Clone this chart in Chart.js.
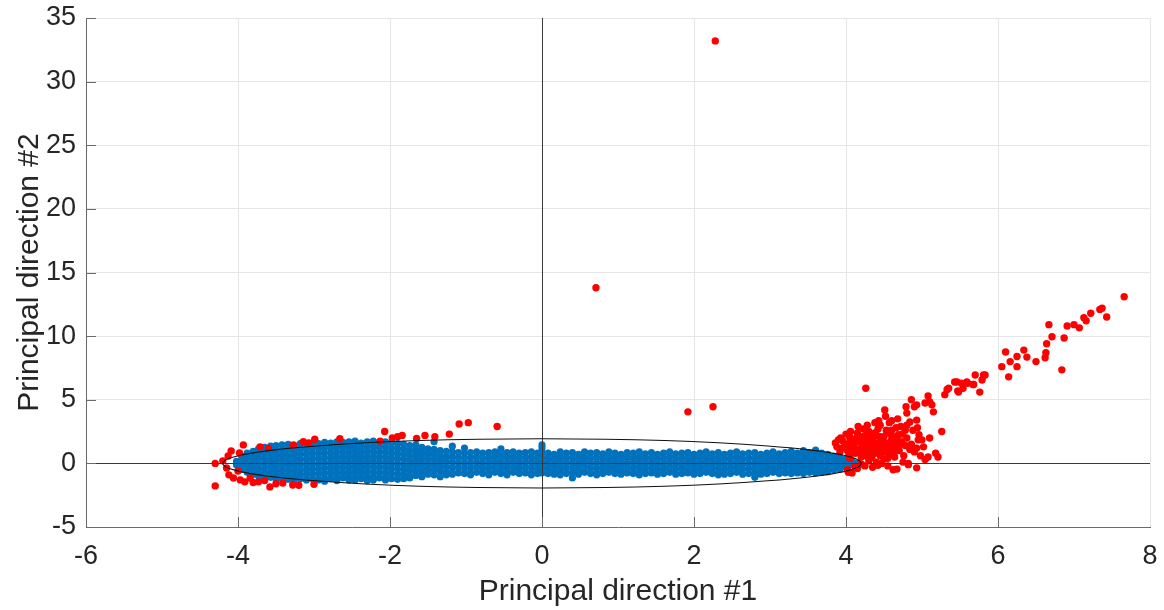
<!DOCTYPE html>
<html>
<head>
<meta charset="utf-8">
<script src="https://cdn.jsdelivr.net/npm/chart.js@4/dist/chart.umd.min.js"></script>
<style>
  body { margin: 0; background: #fff; }
  #wrap { width: 1164px; height: 610px; }
</style>
</head>
<body>
<div id="wrap"><canvas id="chart"></canvas></div>
<script>
// axis ticks
const xTicks = [-6, -4, -2, 0, 2, 4, 6, 8];
const yTicks = [-5, 0, 5, 10, 15, 20, 25, 30, 35];

// fitted ellipse (center, semi axes) in data units
const ellipseCenter = [0, 0];
const ellipseRadii = [4.2, 1.93];

// inliers: [x, [y values]]
const blueColumns = [
    [-4.02, [0.15, -0.1]],
    [-3.95, [0.55, 0.2, -0.15, -0.45]],
    [-3.88, [0.8, 0.4, 0.0, -0.4, -0.7]],
    [-3.8, [0.95, 0.55, 0.15, -0.25, -0.6, -0.85]],
    [-3.73, [1.15, 0.75, 0.35, -0.05, -0.45, -0.8, -1.0]],
    [-3.65, [1.25, 0.85, 0.45, 0.05, -0.35, -0.75, -1.05]],
    [-3.57, [1.35, 0.95, 0.55, 0.15, -0.25, -0.65, -1.1]],
    [-3.5, [1.4, 1.0, 0.6, 0.2, -0.2, -0.6, -1.0, -1.2]],
    [-3.42, [1.45, 1.05, 0.65, 0.25, -0.15, -0.55, -0.95, -1.2]],
    [-3.34, [1.5, 1.1, 0.7, 0.3, -0.1, -0.5, -0.9, -1.25]],
    [-3.26, [1.4, 1.0, 0.6, 0.2, -0.2, -0.6, -1.0, -1.3]],
    [-3.18, [1.55, 1.15, 0.75, 0.35, -0.05, -0.45, -0.85, -1.2]],
    [-3.1, [1.5, 1.1, 0.7, 0.3, -0.1, -0.5, -0.9, -1.3]],
    [-3.02, [1.6, 1.2, 0.8, 0.4, 0.0, -0.4, -0.8, -1.2]],
    [-2.94, [1.55, 1.15, 0.75, 0.35, -0.05, -0.45, -0.85, -1.3]],
    [-2.86, [1.65, 1.25, 0.85, 0.45, 0.05, -0.35, -0.75, -1.15, -1.4]],
    [-2.78, [1.6, 1.2, 0.8, 0.4, 0.0, -0.4, -0.8, -1.2]],
    [-2.7, [1.7, 1.3, 0.9, 0.5, 0.1, -0.3, -0.7, -1.1, -1.35]],
    [-2.62, [1.65, 1.25, 0.85, 0.45, 0.05, -0.35, -0.75, -1.15]],
    [-2.54, [1.7, 1.3, 0.9, 0.5, 0.1, -0.3, -0.7, -1.1, -1.3]],
    [-2.46, [1.75, 1.35, 0.95, 0.55, 0.15, -0.25, -0.65, -1.05, -1.3]],
    [-2.38, [1.6, 1.2, 0.8, 0.4, 0.0, -0.4, -0.8, -1.2]],
    [-2.3, [1.7, 1.3, 0.9, 0.5, 0.1, -0.3, -0.7, -1.1, -1.35]],
    [-2.22, [1.75, 1.35, 0.95, 0.55, 0.15, -0.25, -0.65, -1.05, -1.3]],
    [-2.14, [1.65, 1.25, 0.85, 0.45, 0.05, -0.35, -0.75, -1.15]],
    [-2.06, [1.7, 1.3, 0.9, 0.5, 0.1, -0.3, -0.7, -1.1, -1.3]],
    [-1.98, [1.6, 1.2, 0.8, 0.4, 0.0, -0.4, -0.8, -1.2]],
    [-1.9, [1.55, 1.15, 0.75, 0.35, -0.05, -0.45, -0.85, -1.25]],
    [-1.82, [1.5, 1.1, 0.7, 0.3, -0.1, -0.5, -0.9, -1.2]],
    [-1.74, [1.4, 1.0, 0.6, 0.2, -0.2, -0.6, -1.0, -1.15]],
    [-1.66, [1.45, 1.05, 0.65, 0.25, -0.15, -0.55, -0.95]],
    [-1.58, [1.25, 0.85, 0.45, 0.05, -0.35, -0.75, -1.05]],
    [-1.5, [1.15, 0.75, 0.35, -0.05, -0.45, -0.85]],
    [-1.42, [1.7, 1.1, 0.7, 0.3, -0.1, -0.5, -0.9]],
    [-1.34, [1.0, 0.6, 0.2, -0.2, -0.6, -1.05]],
    [-1.26, [0.95, 0.55, 0.15, -0.25, -0.65, -0.9]],
    [-1.18, [1.35, 0.9, 0.5, 0.1, -0.3, -0.7, -0.85]],
    [-1.1, [0.85, 0.45, 0.05, -0.35, -0.75]],
    [-1.02, [1.2, 0.8, 0.4, 0.0, -0.4, -0.8]],
    [-0.94, [0.85, 0.45, 0.05, -0.35, -0.75, -0.9]],
    [-0.86, [0.9, 0.5, 0.1, -0.3, -0.7]],
    [-0.78, [0.8, 0.4, 0.0, -0.4, -0.8]],
    [-0.7, [0.85, 0.45, 0.05, -0.35, -0.75, -0.9]],
    [-0.62, [0.9, 0.5, 0.1, -0.3, -0.7]],
    [-0.54, [1.15, 0.8, 0.4, 0.0, -0.4, -0.8]],
    [-0.46, [0.85, 0.45, 0.05, -0.35, -0.75, -0.9]],
    [-0.38, [0.9, 0.5, 0.1, -0.3, -0.7]],
    [-0.3, [0.8, 0.4, 0.0, -0.4, -0.8]],
    [-0.22, [0.85, 0.45, 0.05, -0.35, -0.75]],
    [-0.14, [0.9, 0.5, 0.1, -0.3, -0.7, -0.9]],
    [-0.06, [0.8, 0.4, 0.0, -0.4, -0.8]],
    [0.0, [1.45, 1.2, 0.85, 0.45, 0.05, -0.35, -0.75]],
    [0.08, [0.8, 0.4, 0.0, -0.4, -0.8]],
    [0.16, [0.7, 0.3, -0.1, -0.5, -0.85]],
    [0.24, [0.9, 0.5, 0.1, -0.3, -0.7, -0.9]],
    [0.32, [0.8, 0.4, 0.0, -0.4, -0.8]],
    [0.4, [0.85, 0.45, 0.05, -0.35, -0.75, -1.15]],
    [0.48, [0.7, 0.3, -0.1, -0.5, -0.85]],
    [0.56, [0.9, 0.5, 0.1, -0.3, -0.7]],
    [0.64, [0.8, 0.4, 0.0, -0.4, -0.8]],
    [0.72, [0.85, 0.45, 0.05, -0.35, -0.75, -0.9]],
    [0.8, [0.75, 0.35, -0.05, -0.45, -0.8]],
    [0.88, [0.9, 0.5, 0.1, -0.3, -0.7]],
    [0.96, [0.8, 0.4, 0.0, -0.4, -0.8]],
    [1.04, [0.7, 0.3, -0.1, -0.5, -0.85]],
    [1.12, [0.85, 0.45, 0.05, -0.35, -0.75]],
    [1.2, [0.8, 0.4, 0.0, -0.4, -0.8]],
    [1.28, [0.9, 0.5, 0.1, -0.3, -0.7, -0.9]],
    [1.36, [0.75, 0.35, -0.05, -0.45, -0.8]],
    [1.44, [0.85, 0.45, 0.05, -0.35, -0.75]],
    [1.52, [0.7, 0.3, -0.1, -0.5, -0.85]],
    [1.6, [0.8, 0.4, 0.0, -0.4, -0.8]],
    [1.68, [0.9, 0.5, 0.1, -0.3, -0.7]],
    [1.76, [0.75, 0.35, -0.05, -0.45, -0.85]],
    [1.84, [0.8, 0.4, 0.0, -0.4, -0.8]],
    [1.92, [0.85, 0.45, 0.05, -0.35, -0.75]],
    [2.0, [0.7, 0.3, -0.1, -0.5, -0.85]],
    [2.08, [0.8, 0.4, 0.0, -0.4, -0.8]],
    [2.16, [0.9, 0.5, 0.1, -0.3, -0.7]],
    [2.24, [0.75, 0.35, -0.05, -0.45, -0.8]],
    [2.32, [0.85, 0.45, 0.05, -0.35, -0.75, -0.9]],
    [2.4, [0.7, 0.3, -0.1, -0.5, -0.85]],
    [2.48, [0.8, 0.4, 0.0, -0.4, -0.8]],
    [2.56, [0.9, 0.5, 0.1, -0.3, -0.7]],
    [2.64, [0.75, 0.35, -0.05, -0.45, -0.85]],
    [2.72, [0.8, 0.4, 0.0, -0.4, -0.8]],
    [2.8, [0.85, 0.45, 0.05, -0.35, -0.75, -1.1]],
    [2.88, [0.7, 0.3, -0.1, -0.5, -0.85]],
    [2.96, [0.8, 0.4, 0.0, -0.4, -0.8]],
    [3.04, [0.9, 0.5, 0.1, -0.3, -0.7]],
    [3.12, [0.75, 0.35, -0.05, -0.45, -0.8]],
    [3.2, [0.85, 0.45, 0.05, -0.35, -0.75]],
    [3.28, [0.95, 0.55, 0.15, -0.25, -0.65, -0.8]],
    [3.36, [0.8, 0.4, 0.0, -0.4, -0.75]],
    [3.44, [1.0, 0.6, 0.2, -0.2, -0.6, -0.8]],
    [3.52, [0.85, 0.45, 0.05, -0.35, -0.7]],
    [3.6, [1.05, 0.65, 0.25, -0.15, -0.55, -0.75]],
    [3.68, [0.8, 0.4, 0.0, -0.4, -0.7]],
    [3.76, [0.7, 0.3, -0.1, -0.5, -0.65]],
    [3.84, [0.55, 0.2, -0.15, -0.5]],
    [3.92, [0.45, 0.1, -0.25, -0.45]],
    [4.0, [0.35, 0.05, -0.3]],
    [4.08, [0.2, -0.1]],
    [4.15, [0.05]]
];

// outliers: [x, y]
const redPoints = [
    [-4.3, 0.0], [-4.3, -1.77], [-4.09, 0.98], [-4.13, 0.58], [-3.93, 1.45], [-3.98, 0.82],
    [-4.15, -0.36], [-4.12, -0.9], [-4.06, -1.15], [-3.97, -1.3], [-3.91, -1.45], [-3.71, 1.3],
    [-3.6, 1.2], [-3.73, -1.45], [-3.58, -1.85], [-3.41, -1.55], [-3.28, -1.7], [-3.27, 1.45],
    [-3.84, -1.15], [-3.65, -1.35], [-3.8, -1.5], [-3.5, -1.6], [-3.2, -1.72], [-3.0, -1.65],
    [-2.99, 1.9], [-3.14, 1.7], [-3.07, 1.6], [-2.66, 1.93], [-2.07, 2.5], [-2.13, 1.75],
    [-1.97, 2.0], [-1.9, 2.1], [-1.84, 2.2], [-1.65, 1.95], [-1.54, 2.2], [-1.41, 2.1],
    [-1.22, 2.3], [-1.09, 3.1], [-0.97, 3.2], [-0.59, 2.9], [-4.2, 0.2], [-4.0, -0.6],
    [0.71, 13.8], [2.28, 33.2], [1.92, 4.05], [2.25, 4.45],
    [4.26, 5.9], [4.51, 4.2], [4.43, 3.35], [4.57, 3.2], [3.86, 1.6], [3.9, 1.85], [4.0, 2.3],
    [4.05, 1.6], [4.14, 2.0], [4.23, 2.7], [4.27, 2.25], [4.32, 1.7], [4.38, 2.4], [4.45, 2.1],
    [4.49, 1.7], [4.54, 2.4], [4.6, 1.85], [4.65, 1.3], [4.69, 2.25], [4.73, 1.7], [4.78, 2.6],
    [4.8, 3.95], [4.79, 4.45], [4.84, 3.25], [4.86, 5.0], [4.93, 4.6], [4.94, 2.8], [4.96, 2.25],
    [5.0, 1.85], [5.04, 4.75], [5.08, 5.3], [5.13, 4.6], [5.15, 4.05], [5.1, 2.0], [5.26, 2.5],
    [5.35, 5.9], [5.3, 5.4], [5.46, 6.4], [5.48, 5.6], [5.18, 0.8], [5.21, 0.5], [5.08, 0.5],
    [4.93, 1.2], [4.93, -0.35], [4.82, 0.0], [4.75, 0.1], [4.67, -0.45], [4.55, 0.4], [4.47, 0.0],
    [4.4, 0.1], [4.32, 0.8], [4.25, 1.05], [4.2, 0.5], [4.12, 0.8], [4.05, 0.4], [4.03, -0.7],
    [4.08, -0.75], [4.64, 0.5], [4.58, 1.2], [4.41, 1.3], [4.36, 1.05], [4.9, 4.45], [5.1, 4.85],
    [5.33, 5.8], [5.43, 6.4], [5.54, 5.9], [5.59, 6.4], [5.67, 6.2], [5.7, 6.95], [5.79, 6.55],
    [5.83, 6.95], [5.76, 5.6], [4.93, 3.4], [4.95, 1.85], [4.8, 3.0], [4.82, -0.1],
    [5.52, 6.3], [5.6, 6.3], [5.68, 6.2], [5.81, 6.95], [5.47, 5.7], [6.05, 7.6], [6.1, 8.75],
    [6.14, 6.8], [6.16, 8.0], [6.25, 7.6], [6.25, 8.4], [6.34, 8.9], [6.38, 8.35], [6.5, 8.0],
    [6.62, 8.3], [6.63, 8.7], [6.64, 9.4], [6.67, 10.9], [6.71, 9.95], [6.84, 7.35], [6.87, 9.85],
    [6.91, 10.8], [7.0, 10.9], [7.07, 10.65], [7.13, 11.45], [7.16, 11.2], [7.22, 11.8],
    [7.34, 12.1], [7.37, 12.2], [7.43, 11.5], [7.66, 13.1],
    [3.95, 1.2], [4.02, 1.0], [4.1, 1.4], [4.18, 1.7], [4.22, 2.1], [4.3, 2.5], [4.35, 1.9],
    [4.42, 2.7], [4.48, 1.5], [4.52, 0.9], [4.6, 2.6], [4.15, 2.4], [4.28, 1.4], [4.4, 1.6],
    [4.5, 2.1], [4.62, 1.6], [4.7, 1.0], [4.72, 2.9], [3.98, 1.55], [4.08, 1.9], [4.18, 1.15],
    [4.34, 0.45], [4.45, 0.6], [4.25, -0.2], [4.15, -0.4], [4.35, -0.3], [4.55, -0.2],
    [4.62, -0.5], [4.9, 0.9], [4.86, 1.5], [5.02, 1.3], [5.04, 0.3], [4.98, 0.6], [4.78, 1.4],
    [4.02, -0.5], [4.12, -0.25], [3.93, 2.0], [4.05, 2.05], [4.45, 3.0], [4.28, 3.0],
    [4.6, 3.35], [4.68, 3.5],
    [3.88, 1.3], [3.92, 0.9], [3.96, 1.75], [4.0, 1.35], [4.04, 0.7], [4.06, 2.5], [4.1, 1.1],
    [4.12, 1.65], [4.16, 2.2], [4.2, 0.9], [4.22, 1.45], [4.24, 1.9], [4.26, 0.6], [4.3, 1.2],
    [4.32, 2.1], [4.36, 1.5], [4.38, 0.8], [4.4, 2.2], [4.43, 1.0], [4.46, 1.8], [4.5, 1.2],
    [4.53, 2.6], [4.56, 1.6], [4.58, 0.7], [4.6, 2.2], [4.64, 1.0], [4.66, 1.9], [4.7, 1.45],
    [4.74, 2.3], [4.76, 0.6], [4.8, 2.0], [4.84, 1.1], [4.88, 2.6], [4.3, 0.2], [4.5, 0.35],
    [4.2, -0.05], [4.42, -0.15], [4.38, 3.2], [4.52, 3.7], [4.66, 2.8], [4.16, 2.9], [4.08, 1.25]
];

const blueData = blueColumns.flatMap(([x, ys]) => ys.map(y => ({ x: x, y: y })));
const redData = redPoints.map(([x, y]) => ({ x: x, y: y }));

const FONT = "'Liberation Sans', Arial, sans-serif";
const TEXT = "#262626";

// zero lines, ellipse and the inward tick marks, drawn over the dots
const overlay = {
    id: "overlay",
    afterDatasetsDraw(chart) {
        const { ctx, chartArea: a, scales: { x, y } } = chart;
        ctx.save();
        ctx.beginPath();
        ctx.rect(a.left, a.top, a.right - a.left, a.bottom - a.top);
        ctx.clip();

        const x0 = Math.round(x.getPixelForValue(0)) + 0.5;
        const y0 = Math.round(y.getPixelForValue(0)) + 0.5;
        ctx.strokeStyle = "#3a3a3a";
        ctx.lineWidth = 1;
        ctx.beginPath();
        ctx.moveTo(x0, a.top); ctx.lineTo(x0, a.bottom);
        ctx.moveTo(a.left, y0); ctx.lineTo(a.right, y0);
        ctx.stroke();

        const cx = x.getPixelForValue(ellipseCenter[0]);
        const cy = y.getPixelForValue(ellipseCenter[1]);
        const rx = Math.abs(x.getPixelForValue(ellipseCenter[0] + ellipseRadii[0]) - cx);
        const ry = Math.abs(y.getPixelForValue(ellipseCenter[1] + ellipseRadii[1]) - cy);
        ctx.strokeStyle = "#111";
        ctx.lineWidth = 1.1;
        ctx.beginPath();
        ctx.ellipse(cx, cy, rx, ry, 0, 0, Math.PI * 2);
        ctx.stroke();

        ctx.strokeStyle = "#6a6a6a";
        ctx.lineWidth = 1;
        ctx.beginPath();
        x.ticks.forEach(t => {
            const px = Math.round(x.getPixelForValue(t.value)) + 0.5;
            ctx.moveTo(px, a.bottom); ctx.lineTo(px, a.bottom - 10);
        });
        y.ticks.forEach(t => {
            const py = Math.round(y.getPixelForValue(t.value)) + 0.5;
            ctx.moveTo(a.left, py); ctx.lineTo(a.left + 10, py);
        });
        ctx.stroke();
        ctx.restore();
    }
};

new Chart(document.getElementById("chart"), {
    type: "scatter",
    data: {
        datasets: [
            { data: redData, backgroundColor: "#ff0000", pointRadius: 3.7, pointBorderWidth: 0 },
            { data: blueData, backgroundColor: "#0072bd", pointRadius: 3.6, pointBorderWidth: 0 }
        ]
    },
    options: {
        responsive: true,
        maintainAspectRatio: false,
        animation: false,
        layout: { padding: { top: 18, right: 14, left: 0, bottom: 0 } },
        plugins: { legend: { display: false }, tooltip: { enabled: false } },
        scales: {
            x: {
                min: -6, max: 8,
                afterBuildTicks: s => { s.ticks = xTicks.map(v => ({ value: v })); },
                afterFit: s => { s.height = 83; s.paddingLeft = 0; s.paddingRight = 0; },
                grid: { color: "#e6e6e6", drawTicks: false },
                border: { color: "#6a6a6a", width: 1 },
                ticks: { font: { family: FONT, size: 27 }, color: TEXT, padding: 13, maxRotation: 0 },
                title: { display: true, text: "Principal direction #1", font: { family: FONT, size: 30 }, color: TEXT, padding: { top: 0, bottom: 0 } }
            },
            y: {
                min: -5, max: 35,
                afterBuildTicks: s => { s.ticks = yTicks.map(v => ({ value: v })); },
                afterFit: s => { s.width = 86; s.paddingTop = 0; s.paddingBottom = 0; },
                grid: { color: "#e6e6e6", drawTicks: false },
                border: { color: "#6a6a6a", width: 1 },
                ticks: { font: { family: FONT, size: 27 }, color: TEXT, padding: 10 },
                title: { display: true, text: "Principal direction #2", font: { family: FONT, size: 30 }, color: TEXT, padding: { top: 12, bottom: 0 } }
            }
        }
    },
    plugins: [overlay]
});
</script>
</body>
</html>
